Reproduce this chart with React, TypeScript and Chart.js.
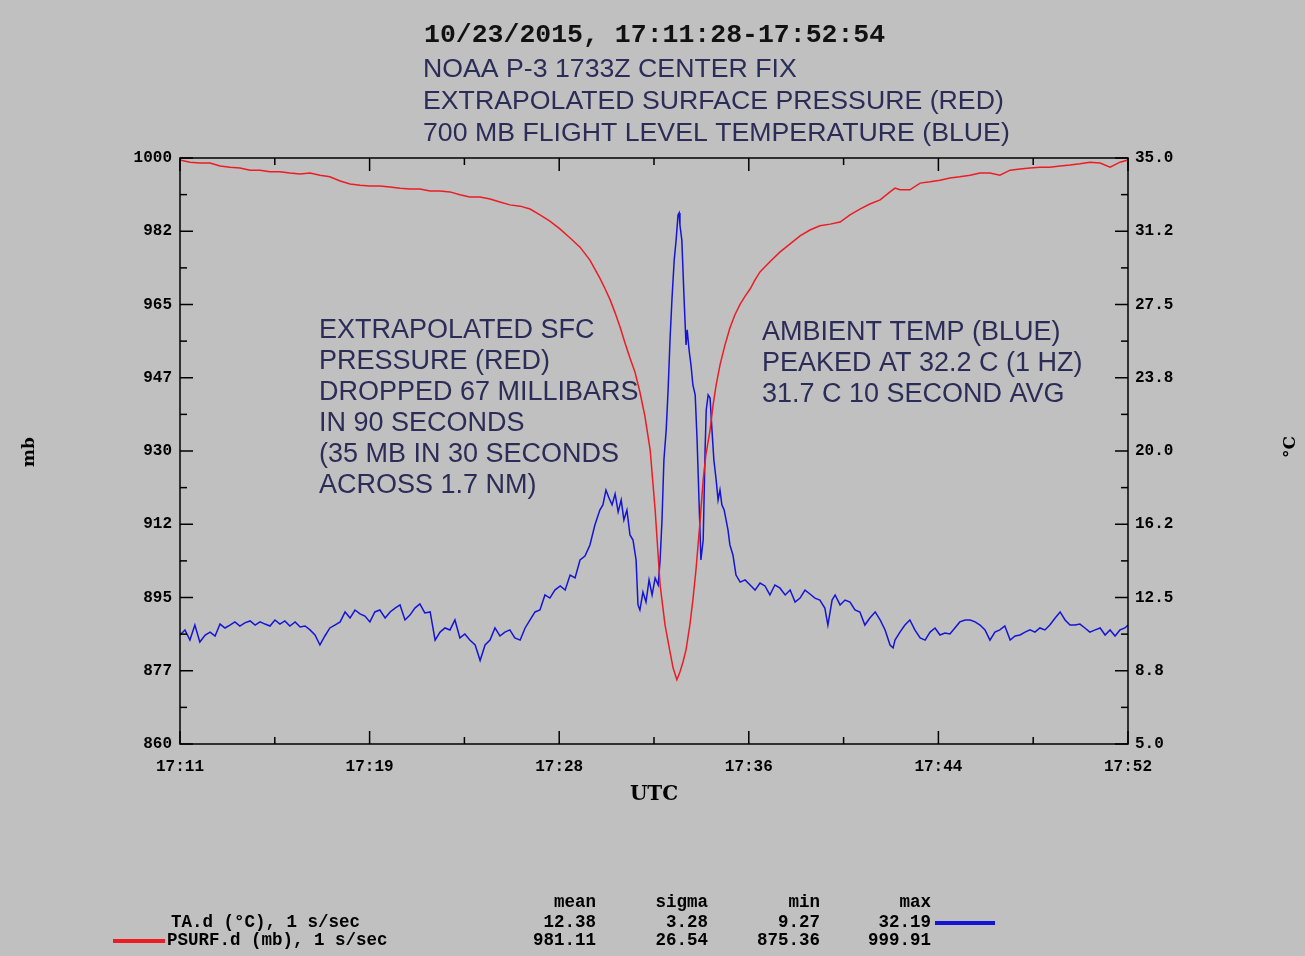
import React, { useEffect, useRef } from "react";
import { Chart, registerables } from "chart.js";

Chart.register(...registerables);

// ---- Data (seconds after 17:11:28 UTC) ----
const pressureTimeSec = [
  0, 26, 52, 79, 105, 131, 157, 184, 210, 236, 262, 288, 315, 341, 367, 393, 420, 446, 472, 498,
  524, 551, 577, 603, 629, 656, 682, 708, 734, 760, 787, 813, 839, 865, 892, 918, 944, 970, 997, 1023,
  1049, 1075, 1101, 1115, 1128, 1141, 1154, 1167, 1180, 1193, 1206, 1219, 1233, 1246,
  1259, 1272, 1285, 1293, 1303, 1311, 1319, 1327, 1337, 1345, 1353, 1364, 1372, 1379, 1390, 1398,
  1406, 1416, 1429, 1442, 1455, 1469, 1482, 1495, 1508, 1521,
  1547, 1573, 1600, 1626, 1652, 1678, 1705, 1731, 1757, 1783, 1809, 1836, 1862, 1875, 1888,
  1914, 1941, 1967, 1993, 2019, 2045, 2072, 2098, 2124, 2150, 2177, 2203, 2229, 2255, 2281, 2308,
  2334, 2360, 2386, 2413, 2439, 2465, 2486,
];
const pressureMb = [
  999.5, 999.0, 998.8, 998.8, 998.1, 997.8, 997.6, 997.1, 997.1, 996.7, 996.7, 996.4, 996.2, 996.4, 995.9, 995.5, 994.5, 993.8, 993.5, 993.3,
  993.3, 993.1, 992.8, 992.6, 992.6, 992.1, 992.1, 991.9, 991.2, 990.7, 990.7, 990.2, 989.5, 988.8, 988.5, 987.8, 986.4, 984.9, 983.0, 980.9,
  978.7, 975.6, 971.3, 968.7, 966.1, 963.0, 959.6, 955.8, 952.2, 948.9, 944.1, 938.4, 930.2, 915.9,
  898.0, 888.4, 882.0, 878.2, 875.36, 877.2, 879.6, 882.5, 888.4, 894.4, 901.5, 913.5, 923.1, 929.0, 935.0, 941.0,
  945.8, 950.5, 955.3, 959.4, 962.5, 965.1, 967.0, 968.7, 970.9, 972.8,
  975.2, 977.5, 979.5, 981.4, 982.8, 983.8, 984.2, 984.7, 986.4, 987.8, 989.0, 990.0, 991.9, 992.8, 992.4,
  992.4, 994.0, 994.3, 994.7, 995.2, 995.5, 995.9, 996.4, 996.4, 995.9, 997.1, 997.4, 997.6, 997.8, 997.8, 998.1,
  998.3, 998.6, 999.0, 998.8, 997.8, 999.0, 999.5,
];

const tempTimeSec = [
  0, 13, 26, 39, 52, 66, 79, 92, 105, 118, 131, 144, 157, 170, 184, 197, 210, 223, 236, 249,
  262, 275, 288, 302, 315, 328, 341, 354, 367, 380, 393, 406, 420, 433, 446, 459, 472, 485, 498, 511,
  524, 538, 551, 564, 577, 590, 603, 616, 629, 642, 656, 669, 682, 695, 708, 721, 734, 747, 760, 774,
  787, 800, 813, 826, 839, 852, 865, 878, 892, 905, 918, 931, 944, 957, 970, 983, 997, 1010, 1023, 1036,
  1049, 1062, 1075, 1088, 1101,
  1109, 1117, 1125, 1133, 1141, 1149, 1157, 1164, 1172, 1180, 1188, 1196, 1201, 1206, 1214, 1222, 1230, 1238, 1246, 1254,
  1259, 1264, 1269, 1275, 1280, 1285, 1290, 1296, 1301, 1306, 1309, 1311, 1316, 1322, 1327, 1330, 1335, 1340, 1345, 1351,
  1356, 1361, 1366, 1372, 1377, 1380, 1385, 1390, 1395, 1400, 1406, 1411, 1416, 1421, 1427, 1432, 1437, 1442, 1450, 1458,
  1469, 1482, 1495, 1508, 1521, 1534, 1547, 1560, 1573, 1587, 1600, 1613, 1626, 1639, 1652, 1665, 1678, 1691,
  1699, 1710, 1718, 1731, 1744, 1757, 1770, 1783, 1796, 1809, 1823, 1836, 1849, 1862, 1870, 1875,
  1888, 1901, 1914, 1927, 1941, 1954, 1967, 1980, 1993, 2006, 2019, 2032, 2045, 2059, 2072, 2085, 2098, 2111, 2124, 2137,
  2150, 2163, 2177, 2190, 2203, 2216, 2229, 2242, 2255, 2268, 2281, 2295, 2308, 2321, 2334, 2347, 2360, 2373, 2386, 2400,
  2413, 2426, 2439, 2452, 2465, 2478, 2486,
];
const tempC = [
  10.58, 10.84, 10.32, 11.09, 10.22, 10.58, 10.73, 10.53, 11.14, 10.94, 11.09, 11.25, 11.04, 11.2, 11.3, 11.09, 11.25, 11.14, 11.04, 11.35,
  11.14, 11.3, 11.04, 11.25, 10.99, 11.04, 10.84, 10.58, 10.07, 10.53, 10.94, 11.09, 11.25, 11.76, 11.45, 11.86, 11.66, 11.55, 11.25, 11.76,
  11.86, 11.45, 11.76, 11.96, 12.12, 11.35, 11.6, 11.96, 12.17, 11.71, 11.76, 10.32, 10.73, 10.94, 10.84, 11.35, 10.43, 10.63, 10.32, 10.07,
  9.27, 10.07, 10.32, 10.94, 10.53, 10.73, 10.84, 10.43, 10.32, 10.94, 11.35, 11.76, 11.86, 12.63, 12.47, 12.88, 13.09, 12.88, 13.65, 13.5,
  14.42, 14.62, 15.19, 16.21, 16.98,
  17.24, 18.0, 17.59, 17.24, 17.8, 16.88, 17.49, 16.47, 16.98, 15.7, 15.44, 14.42, 12.12, 11.86, 12.78, 12.27, 13.4, 12.63, 13.5, 13.14,
  14.42, 16.47, 19.54, 21.08, 23.12, 25.68, 27.73, 29.78, 30.8, 32.08, 32.19, 31.57, 30.8, 27.73, 25.43, 26.2, 25.17, 24.4, 23.38, 22.87,
  20.56, 17.49, 14.42, 15.44, 20.05, 22.1, 22.87, 22.71, 21.08, 19.54, 18.52, 17.49, 18.0, 17.24, 16.98, 16.47, 15.96, 15.19, 14.68, 13.65,
  13.29, 13.4, 13.14, 12.88, 13.24, 13.09, 12.63, 13.14, 12.99, 12.63, 12.88, 12.27, 12.47, 12.88, 12.68, 12.47, 12.37, 11.96,
  11.09, 12.37, 12.63, 12.12, 12.37, 12.27, 11.86, 11.76, 11.09, 11.45, 11.76, 11.35, 10.84, 10.07, 9.92, 10.32,
  10.73, 11.09, 11.35, 10.84, 10.43, 10.32, 10.73, 10.94, 10.58, 10.68, 10.63, 10.94, 11.25, 11.35, 11.35, 11.25, 11.09, 10.84, 10.32, 10.73,
  10.84, 11.04, 10.32, 10.53, 10.58, 10.73, 10.84, 10.73, 10.94, 10.84, 11.09, 11.45, 11.76, 11.35, 11.09, 11.09, 11.14, 10.94, 10.73, 10.84,
  10.94, 10.58, 10.84, 10.53, 10.84, 10.94, 11.09,
];

// ---- Axes ----
const xMaxSec = 2486;
const xTickSec = [0, 497.2, 994.4, 1491.6, 1988.8, 2486];
const xTickLabels = ["17:11", "17:19", "17:28", "17:36", "17:44", "17:52"];
const leftTickValues = [860, 877.5, 895, 912.5, 930, 947.5, 965, 982.5, 1000];
const leftTickLabels = ["860", "877", "895", "912", "930", "947", "965", "982", "1000"];
const rightTickValues = [5, 8.75, 12.5, 16.25, 20, 23.75, 27.5, 31.25, 35];
const rightTickLabels = ["5.0", "8.8", "12.5", "16.2", "20.0", "23.8", "27.5", "31.2", "35.0"];

// ---- Text ----
const headerLine = "10/23/2015, 17:11:28-17:52:54";
const titleLines = [
  "NOAA P-3 1733Z CENTER FIX",
  "EXTRAPOLATED SURFACE PRESSURE (RED)",
  "700 MB FLIGHT LEVEL TEMPERATURE (BLUE)",
];
const leftNoteLines = [
  "EXTRAPOLATED SFC",
  "PRESSURE (RED)",
  "DROPPED 67 MILLIBARS",
  "IN 90 SECONDS",
  "(35 MB IN 30 SECONDS",
  "ACROSS 1.7 NM)",
];
const rightNoteLines = ["AMBIENT TEMP (BLUE)", "PEAKED AT 32.2 C (1 HZ)", "31.7 C 10 SECOND AVG"];
const statHeaders = ["mean", "sigma", "min", "max"];
const taLabel = "TA.d (°C), 1 s/sec";
const psurfLabel = "PSURF.d (mb), 1 s/sec";
const taStats = ["12.38", "3.28", "9.27", "32.19"];
const psurfStats = ["981.11", "26.54", "875.36", "999.91"];

const BG = "#c0c0c0";
const RED = "rgb(236,28,36)";
const BLUE = "rgb(20,20,215)";
const NAVY = "#2c2c58";
const MONO = '"Liberation Mono", "DejaVu Sans Mono", monospace';
const SANS = '"Liberation Sans", Arial, sans-serif';
const SERIF = '"DejaVu Serif", "Liberation Serif", serif';

const decorPlugin = {
  id: "decor",
  beforeDraw(chart: any) {
    const { ctx, width, height } = chart;
    ctx.save();
    ctx.fillStyle = BG;
    ctx.fillRect(0, 0, width, height);
    ctx.restore();
  },
  afterDraw(chart: any) {
    const { ctx, chartArea: a, scales } = chart;
    const sx = scales.x;
    const sy = scales.y;
    const sy2 = scales.y2;
    ctx.save();
    ctx.strokeStyle = "#000";
    ctx.lineWidth = 1.5;
    ctx.strokeRect(a.left, a.top, a.right - a.left, a.bottom - a.top);
    const seg = (x1: number, y1: number, x2: number, y2: number) => {
      ctx.beginPath();
      ctx.moveTo(x1, y1);
      ctx.lineTo(x2, y2);
      ctx.stroke();
    };
    const MAJ = 13;
    const MIN = 7;
    xTickSec.forEach((v, i) => {
      const px = sx.getPixelForValue(v);
      seg(px, a.bottom, px, a.bottom - MAJ);
      seg(px, a.top, px, a.top + MAJ);
      if (i < xTickSec.length - 1) {
        const pm = sx.getPixelForValue((v + xTickSec[i + 1]) / 2);
        seg(pm, a.bottom, pm, a.bottom - MIN);
        seg(pm, a.top, pm, a.top + MIN);
      }
    });
    leftTickValues.forEach((v, i) => {
      const py = sy.getPixelForValue(v);
      seg(a.left, py, a.left + MAJ, py);
      if (i < leftTickValues.length - 1) {
        const pm = sy.getPixelForValue((v + leftTickValues[i + 1]) / 2);
        seg(a.left, pm, a.left + MIN, pm);
      }
    });
    rightTickValues.forEach((v, i) => {
      const py = sy2.getPixelForValue(v);
      seg(a.right, py, a.right - MAJ, py);
      if (i < rightTickValues.length - 1) {
        const pm = sy2.getPixelForValue((v + rightTickValues[i + 1]) / 2);
        seg(a.right, pm, a.right - MIN, pm);
      }
    });

    // Title block
    ctx.textBaseline = "alphabetic";
    ctx.textAlign = "left";
    ctx.fillStyle = "#111";
    ctx.font = `bold 26.5px ${MONO}`;
    ctx.fillText(headerLine, 424, 42);
    ctx.fillStyle = NAVY;
    ctx.font = `26.7px ${SANS}`;
    titleLines.forEach((t, i) => ctx.fillText(t, 423, 77 + i * 32));

    // Annotations
    ctx.font = `27px ${SANS}`;
    leftNoteLines.forEach((t, i) => ctx.fillText(t, 319, 338 + i * 31));
    rightNoteLines.forEach((t, i) => ctx.fillText(t, 762, 340 + i * 31));

    // Axis titles
    ctx.fillStyle = "#000";
    ctx.textAlign = "center";
    ctx.textBaseline = "middle";
    ctx.font = `bold 20px ${SERIF}`;
    ctx.fillText("UTC", (a.left + a.right) / 2, 795);
    ctx.font = `bold 17px ${SERIF}`;
    ctx.save();
    ctx.translate(30, 452);
    ctx.rotate(-Math.PI / 2);
    ctx.fillText("mb", 0, 0);
    ctx.restore();
    ctx.save();
    ctx.translate(1291, 447);
    ctx.rotate(-Math.PI / 2);
    ctx.fillText("°C", 0, 0);
    ctx.restore();

    // Stats legend
    ctx.font = `bold 17.5px ${MONO}`;
    ctx.textBaseline = "middle";
    const colRight = [596, 708, 820, 931];
    ctx.textAlign = "right";
    statHeaders.forEach((h, i) => ctx.fillText(h, colRight[i], 903));
    taStats.forEach((s, i) => ctx.fillText(s, colRight[i], 923));
    psurfStats.forEach((s, i) => ctx.fillText(s, colRight[i], 941));
    ctx.textAlign = "left";
    ctx.fillText(taLabel, 171, 923);
    ctx.fillText(psurfLabel, 167, 941);
    ctx.lineWidth = 4;
    ctx.strokeStyle = RED;
    seg(113, 941, 165, 941);
    ctx.strokeStyle = BLUE;
    seg(935, 923, 995, 923);
    ctx.restore();
  },
};

export default function App() {
  const canvasRef = useRef<HTMLCanvasElement | null>(null);

  useEffect(() => {
    document.body.style.margin = "0";
    document.body.style.background = BG;
    const canvas = canvasRef.current;
    if (!canvas) return;
    const pData = pressureTimeSec.map((t, i) => ({ x: t, y: pressureMb[i] }));
    const tData = tempTimeSec.map((t, i) => ({ x: t, y: tempC[i] }));
    const tickFont = { family: MONO, size: 16, weight: "bold" as const };

    const chart = new Chart(canvas, {
      type: "line",
      data: {
        datasets: [
          {
            label: "PSURF.d (mb)",
            data: pData,
            yAxisID: "y",
            borderColor: RED,
            borderWidth: 1.5,
            pointRadius: 0,
            tension: 0,
            fill: false,
          },
          {
            label: "TA.d (°C)",
            data: tData,
            yAxisID: "y2",
            borderColor: BLUE,
            borderWidth: 1.5,
            pointRadius: 0,
            tension: 0,
            fill: false,
          },
        ],
      },
      options: {
        responsive: false,
        animation: false,
        events: [],
        layout: { padding: { left: 0, right: 0, top: 158, bottom: 0 } },
        plugins: { legend: { display: false }, tooltip: { enabled: false }, title: { display: false } },
        scales: {
          x: {
            type: "linear",
            min: 0,
            max: xMaxSec,
            grid: { display: false, drawTicks: false },
            border: { display: false },
            afterBuildTicks: (s: any) => {
              s.ticks = xTickSec.map((v) => ({ value: v }));
            },
            afterFit: (s: any) => {
              s.height = 212;
            },
            ticks: {
              autoSkip: false,
              maxRotation: 0,
              padding: 13,
              color: "#000",
              font: tickFont,
              callback: (_v: any, i: number) => xTickLabels[i],
            },
          },
          y: {
            type: "linear",
            position: "left",
            min: 860,
            max: 1000,
            grid: { display: false, drawTicks: false },
            border: { display: false },
            afterBuildTicks: (s: any) => {
              s.ticks = leftTickValues.map((v) => ({ value: v }));
            },
            afterFit: (s: any) => {
              s.width = 180;
            },
            ticks: {
              autoSkip: false,
              padding: 8,
              color: "#000",
              font: tickFont,
              callback: (_v: any, i: number) => leftTickLabels[i],
            },
          },
          y2: {
            type: "linear",
            position: "right",
            min: 5,
            max: 35,
            grid: { display: false, drawTicks: false },
            border: { display: false },
            afterBuildTicks: (s: any) => {
              s.ticks = rightTickValues.map((v) => ({ value: v }));
            },
            afterFit: (s: any) => {
              s.width = 177;
            },
            ticks: {
              autoSkip: false,
              padding: 7,
              color: "#000",
              font: tickFont,
              callback: (_v: any, i: number) => rightTickLabels[i],
            },
          },
        },
      },
      plugins: [decorPlugin],
    } as any);
    return () => chart.destroy();
  }, []);

  return (
    <div style={{ width: 1305, height: 956, background: BG }}>
      <canvas ref={canvasRef} width={1305} height={956} style={{ display: "block" }} />
    </div>
  );
}
